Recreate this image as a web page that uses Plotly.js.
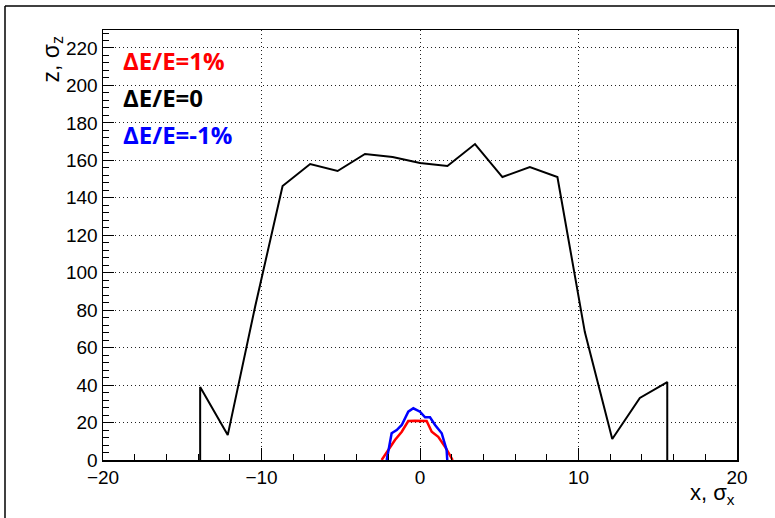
<!DOCTYPE html>
<html>
<head>
<meta charset="utf-8">
<script src="https://cdn.plot.ly/plotly-3.0.1.min.js"></script>
<style>html,body{margin:0;padding:0;background:#fff;}#chart{width:775px;height:518px;}</style>
</head>
<body>
<div id="chart"></div>
<script>
// Black curve: dE/E = 0
const xZero = [-13.87, -13.87, -12.13, -10.40, -8.67, -6.93, -5.20, -3.47, -1.73, 0.00, 1.73, 3.47, 5.20, 6.93, 8.67, 10.40, 12.13, 13.87, 15.60, 15.60];
const yZero = [0, 39.0, 13.3, 82.0, 146.3, 158.0, 154.3, 163.4, 161.8, 158.6, 157.0, 168.7, 151.1, 156.4, 151.1, 68.3, 11.2, 33.1, 41.6, 0];

// Red curve: dE/E = +1%
const xPlus = [-2.42, -2.00, -1.58, -1.15, -0.74, -0.32, 0.10, 0.42, 0.74, 1.15, 1.58, 1.89, 2.06];
const yPlus = [0, 5.3, 10.7, 15.1, 20.8, 20.9, 20.9, 20.8, 15.1, 12.4, 7.1, 2.7, 0];

// Blue curve: dE/E = -1%
const xMinus = [-2.10, -1.79, -1.47, -1.15, -0.74, -0.42, 0.00, 0.32, 0.63, 0.95, 1.37, 1.68, 1.72];
const yMinus = [0, 14.3, 16.0, 18.7, 25.8, 27.6, 25.8, 22.8, 22.8, 18.7, 14.3, 5.3, 0];

const legendLabels = ["\u0394E/E=1%", "\u0394E/E=0", "\u0394E/E=-1%"];
const legendColors = ["#ff0000", "#000000", "#0000ff"];

const traces = [
  {x: xZero, y: yZero, mode: 'lines', line: {color: '#000000', width: 2}, hoverinfo: 'skip'},
  {x: xPlus, y: yPlus, mode: 'lines', line: {color: '#ff0000', width: 2.5}, hoverinfo: 'skip'},
  {x: xMinus, y: yMinus, mode: 'lines', line: {color: '#0000ff', width: 2.5}, hoverinfo: 'skip'}
];

const tickFont = {family: 'Liberation Sans, Arial, sans-serif', size: 19, color: '#000'};

const legendY = [60, 97, 134];
const annotations = legendLabels.map((t, i) => ({
  xref: 'paper', yref: 'paper',
  x: (121 - 103) / 634, y: (460 - legendY[i]) / 430,
  xanchor: 'left', yanchor: 'middle',
  text: '<b>' + t + '</b>', showarrow: false,
  font: {family: 'Open Sans, sans-serif', size: 24, color: legendColors[i]}
}));
annotations.push({
  xref: 'paper', yref: 'paper', x: 1.0, y: (460 - 494) / 430,
  xanchor: 'right', yanchor: 'middle', showarrow: false,
  text: 'x, \u03c3<sub>x</sub>',
  font: {family: 'Liberation Sans, Arial, sans-serif', size: 22, color: '#000'}
});
annotations.push({
  xref: 'paper', yref: 'paper', x: (52 - 103) / 634, y: (460 - 34) / 430,
  xanchor: 'center', yanchor: 'top', showarrow: false, textangle: -90,
  text: 'z, \u03c3<sub>z</sub>',
  font: {family: 'Liberation Sans, Arial, sans-serif', size: 23, color: '#000'}
});

const layout = {
  width: 775, height: 518,
  margin: {l: 103, r: 38, t: 30, b: 58, pad: 0},
  paper_bgcolor: '#ffffff', plot_bgcolor: '#ffffff',
  showlegend: false,
  xaxis: {
    range: [-20, 20], tickvals: [-20, -10, 0, 10, 20],
    ticks: 'inside', ticklen: 12, tickwidth: 1, tickcolor: '#000',
    showline: true, linecolor: '#000', linewidth: 1.5, mirror: true,
    showgrid: true, gridcolor: '#222', griddash: '1px,3px', gridwidth: 1,
    zeroline: false, tickfont: tickFont,
    minor: {dtick: 2, ticks: 'inside', ticklen: 6, tickcolor: '#000', showgrid: false}
  },
  yaxis: {
    range: [0, 229.6], dtick: 20, tick0: 0,
    ticks: 'inside', ticklen: 11, tickwidth: 1, tickcolor: '#000',
    showline: true, linecolor: '#000', linewidth: 1.5, mirror: true,
    showgrid: true, gridcolor: '#222', griddash: '1px,3px', gridwidth: 1,
    zeroline: false, tickfont: tickFont,
    minor: {dtick: 4, ticks: 'inside', ticklen: 6, tickcolor: '#000', showgrid: false}
  },
  annotations: annotations,
  shapes: [
    {type: 'line', xref: 'paper', yref: 'paper', x0: (5 - 103) / 634, x1: (5 - 103) / 634, y0: (460 - 6) / 430, y1: (460 - 520) / 430, line: {color: '#000', width: 1.5}},
    {type: 'line', xref: 'paper', yref: 'paper', x0: (5 - 103) / 634, x1: (777 - 103) / 634, y0: (460 - 6) / 430, y1: (460 - 6) / 430, line: {color: '#000', width: 1.5}}
  ]
};

Plotly.newPlot('chart', traces, layout, {staticPlot: true, displayModeBar: false});
</script>
</body>
</html>
